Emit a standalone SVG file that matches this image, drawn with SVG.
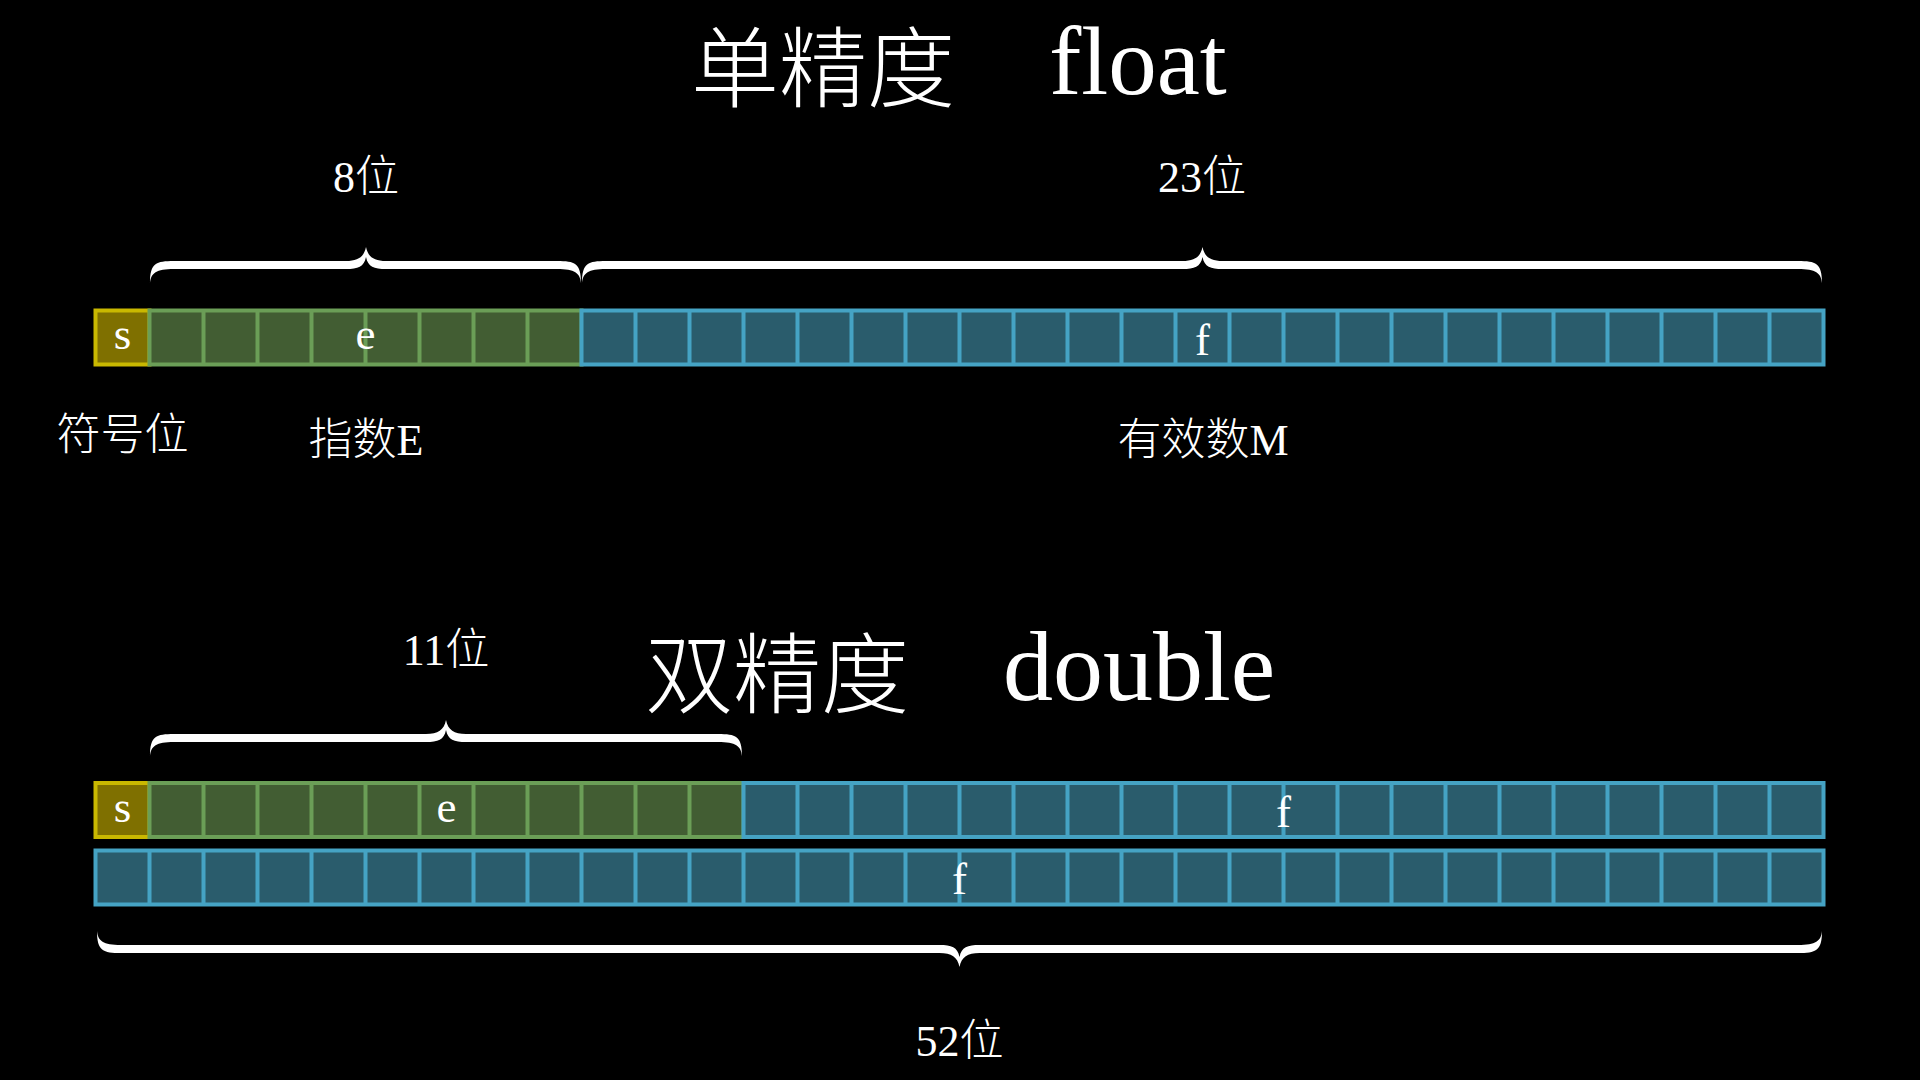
<svg xmlns="http://www.w3.org/2000/svg" width="1920" height="1080" viewBox="0 0 1920 1080">
  <style>
    text { font-family: "Liberation Serif", "Noto Sans CJK SC", serif; fill: #ffffff; font-weight: 300; }
    .lbl { font-size: 44px; text-anchor: middle; }
    .bit { font-size: 45px; text-anchor: middle; }
    .sgn { fill: #7f7000; stroke: #c9b800; stroke-width: 4; }
    .exp { fill: #425d33; stroke: #6b9e57; stroke-width: 4; }
    .frc { fill: #2a5c6c; stroke: #45a3c4; stroke-width: 4; }
    .gl { fill: none; stroke: #6b9e57; stroke-width: 4; }
    .bl { fill: none; stroke: #45a3c4; stroke-width: 4; }
    .brace { fill: #ffffff; stroke: none; }
  </style>
  <rect x="0" y="0" width="1920" height="1080" fill="#000000"/>

  <!-- Titles -->
  <g id="title-float">
    <text><tspan x="691" y="100" font-size="88">单精度</tspan><tspan x="1049" y="94" font-size="97">float</tspan></text>
  </g>
  <g id="title-double">
    <text><tspan x="645" y="706" font-size="88">双精度</tspan><tspan x="1003" y="700" font-size="100">double</tspan></text>
  </g>

  <!-- Single precision row -->
  <g id="float-sign">
    <rect class="sgn" x="95.5" y="310.5" width="54" height="54"/>
    <text class="bit" x="122.5" y="349">s</text>
  </g>
  <g id="float-exponent">
    <rect class="exp" x="149.5" y="310.5" width="432" height="54"/>
    <path class="gl" d="M203.5,310.5V364.5M257.5,310.5V364.5M311.5,310.5V364.5M365.5,310.5V364.5M419.5,310.5V364.5M473.5,310.5V364.5M527.5,310.5V364.5"/>
    <text class="bit" x="365.5" y="349">e</text>
  </g>
  <g id="float-fraction">
    <rect class="frc" x="581.5" y="310.5" width="1242" height="54"/>
    <path class="bl" d="M635.5,310.5V364.5M689.5,310.5V364.5M743.5,310.5V364.5M797.5,310.5V364.5M851.5,310.5V364.5M905.5,310.5V364.5M959.5,310.5V364.5M1013.5,310.5V364.5M1067.5,310.5V364.5M1121.5,310.5V364.5M1175.5,310.5V364.5M1229.5,310.5V364.5M1283.5,310.5V364.5M1337.5,310.5V364.5M1391.5,310.5V364.5M1445.5,310.5V364.5M1499.5,310.5V364.5M1553.5,310.5V364.5M1607.5,310.5V364.5M1661.5,310.5V364.5M1715.5,310.5V364.5M1769.5,310.5V364.5"/>
    <text class="bit" x="1202.5" y="355">f</text>
  </g>

  <!-- Double precision rows -->
  <g id="double-sign">
    <rect class="sgn" x="95.5" y="783" width="54" height="54"/>
    <text class="bit" x="122.5" y="821.5">s</text>
  </g>
  <g id="double-exponent">
    <rect class="exp" x="149.5" y="783" width="594" height="54"/>
    <path class="gl" d="M203.5,783V837M257.5,783V837M311.5,783V837M365.5,783V837M419.5,783V837M473.5,783V837M527.5,783V837M581.5,783V837M635.5,783V837M689.5,783V837"/>
    <text class="bit" x="446.5" y="821.5">e</text>
  </g>
  <g id="double-fraction-1">
    <rect class="frc" x="743.5" y="783" width="1080" height="54"/>
    <path class="bl" d="M797.5,783V837M851.5,783V837M905.5,783V837M959.5,783V837M1013.5,783V837M1067.5,783V837M1121.5,783V837M1175.5,783V837M1229.5,783V837M1283.5,783V837M1337.5,783V837M1391.5,783V837M1445.5,783V837M1499.5,783V837M1553.5,783V837M1607.5,783V837M1661.5,783V837M1715.5,783V837M1769.5,783V837"/>
    <text class="bit" x="1283.5" y="826.5">f</text>
  </g>
  <g id="double-fraction-2">
    <rect class="frc" x="95.5" y="850.5" width="1728" height="54"/>
    <path class="bl" d="M149.5,850.5V904.5M203.5,850.5V904.5M257.5,850.5V904.5M311.5,850.5V904.5M365.5,850.5V904.5M419.5,850.5V904.5M473.5,850.5V904.5M527.5,850.5V904.5M581.5,850.5V904.5M635.5,850.5V904.5M689.5,850.5V904.5M743.5,850.5V904.5M797.5,850.5V904.5M851.5,850.5V904.5M905.5,850.5V904.5M959.5,850.5V904.5M1013.5,850.5V904.5M1067.5,850.5V904.5M1121.5,850.5V904.5M1175.5,850.5V904.5M1229.5,850.5V904.5M1283.5,850.5V904.5M1337.5,850.5V904.5M1391.5,850.5V904.5M1445.5,850.5V904.5M1499.5,850.5V904.5M1553.5,850.5V904.5M1607.5,850.5V904.5M1661.5,850.5V904.5M1715.5,850.5V904.5M1769.5,850.5V904.5"/>
    <text class="bit" x="959.5" y="894">f</text>
  </g>

  <!-- Braces -->
  <g id="braces">
    <path class="brace" transform="translate(0,265)" d="M150,18 C150,-2 156,-4 174,-4 L346,-4 C358,-4 364,-8 366,-18 C368,-8 374,-4 386,-4 L557,-4 C575,-4 581,-2 581,18 C580,8 575,4 557,4 L386,4 C374,4 368,2 366,-8 C364,2 358,4 346,4 L174,4 C156,4 151,8 150,18 Z"/>
    <path class="brace" transform="translate(0,265)" d="M582,18 C582,-2 588,-4 606,-4 L1182.5,-4 C1194.5,-4 1200.5,-8 1202.5,-18 C1204.5,-8 1210.5,-4 1222.5,-4 L1798,-4 C1816,-4 1822,-2 1822,18 C1821,8 1816,4 1798,4 L1222.5,4 C1210.5,4 1204.5,2 1202.5,-8 C1200.5,2 1194.5,4 1182.5,4 L606,4 C588,4 583,8 582,18 Z"/>
    <path class="brace" transform="translate(0,738)" d="M150,18 C150,-2 156,-4 174,-4 L426,-4 C438,-4 444,-8 446,-18 C448,-8 454,-4 466,-4 L718,-4 C736,-4 742,-2 742,18 C741,8 736,4 718,4 L466,4 C454,4 448,2 446,-8 C444,2 438,4 426,4 L174,4 C156,4 151,8 150,18 Z"/>
    <path class="brace" transform="translate(0,949) scale(1,-1)" d="M97,18 C97,-2 103,-4 121,-4 L939.5,-4 C951.5,-4 957.5,-8 959.5,-18 C961.5,-8 967.5,-4 979.5,-4 L1798,-4 C1816,-4 1822,-2 1822,18 C1821,8 1816,4 1798,4 L979.5,4 C967.5,4 961.5,2 959.5,-8 C957.5,2 951.5,4 939.5,4 L121,4 C103,4 98,8 97,18 Z"/>
  </g>

  <!-- Labels -->
  <g id="labels">
    <text class="lbl" x="366" y="192">8位</text>
    <text class="lbl" x="1202" y="192">23位</text>
    <text class="lbl" x="122.5" y="450">符号位</text>
    <text class="lbl" x="366" y="455">指数E</text>
    <text class="lbl" x="1203" y="455">有效数M</text>
    <text class="lbl" x="446" y="665">11位</text>
    <text class="lbl" x="959.5" y="1056">52位</text>
  </g>
</svg>
